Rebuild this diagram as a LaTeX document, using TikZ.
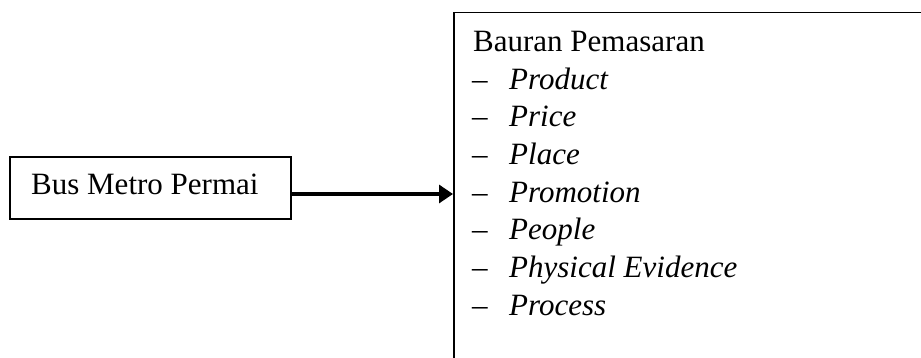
\documentclass[tikz,border=0pt]{standalone}
\usepackage{fontspec}
\setmainfont{Liberation Serif}
\usetikzlibrary{arrows.meta}
\begin{document}
\begin{tikzpicture}[x=1pt,y=1pt,
  boxline/.style={draw=black, line width=1.5pt},
  txt/.style={anchor=base west, inner sep=0pt, font=\fontsize{31}{37}\selectfont},
  itm/.style={anchor=base west, inner sep=0pt, font=\fontsize{31}{37}\selectfont\itshape},
  dsh/.style={anchor=base west, inner sep=0pt, font=\fontsize{31}{37}\selectfont}]
\clip (0,0) rectangle (921,358);
% left box
\node[boxline, rectangle, minimum width=281pt, minimum height=62pt, inner sep=0pt] (left) at (150.5,170) {};
\node[txt] (lefttext) at (31,163.5) {Bus Metro Permai};
% right box (extends beyond the picture)
\node[boxline, rectangle, minimum width=520pt, minimum height=400pt, inner sep=0pt, anchor=north west] (right) at (453,346) {};
\node[txt] (title) at (473,306.5) {Bauran Pemasaran};
\foreach \t [count=\i] in {Product,Price,Place,Promotion,People,Physical Evidence,Process}{
  \node[dsh] (d\i) at (472,306.5-37.7*\i) {--};
  \node[itm] (i\i) at (509,306.5-37.7*\i) {\t};
}
\coordinate (as) at ([yshift=-6pt]left.east);
\draw[line width=3.2pt, -{Triangle[length=14pt,width=18pt]}] (as) -- (as -| right.west);
\end{tikzpicture}
\end{document}
